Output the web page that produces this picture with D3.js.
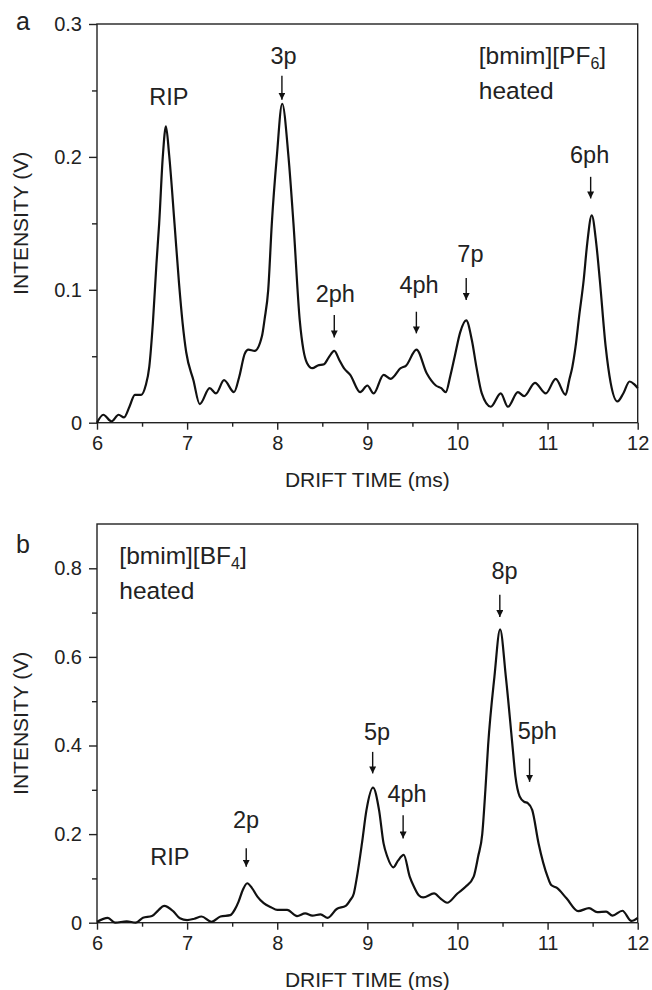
<!DOCTYPE html>
<html>
<head>
<meta charset="utf-8">
<script src="https://cdn.jsdelivr.net/npm/d3@7"></script>
<style>
  body { margin: 0; background: #fff; }
  svg text { font-family: Arial, "Liberation Sans", Helvetica, sans-serif; fill: #222; }
</style>
</head>
<body>
<div id="chart"></div>
<script>
// panel a : [bmim][PF6] heated
const pf6Time = [6.00,6.07,6.16,6.24,6.30,6.36,6.42,6.49,6.54,6.58,6.62,6.66,6.69,6.73,6.765,6.80,6.86,6.91,6.95,6.99,
  7.07,7.14,7.25,7.32,7.41,7.52,7.58,7.64,7.68,7.75,7.83,7.86,7.90,7.94,7.995,8.055,8.125,8.18,8.25,8.29,8.33,8.39,8.45,
  8.52,8.57,8.633,8.69,8.74,8.81,8.92,9.00,9.07,9.18,9.26,9.37,9.43,9.545,9.66,9.76,9.82,9.87,9.92,9.97,10.03,10.097,
  10.16,10.21,10.27,10.37,10.48,10.56,10.67,10.74,10.86,10.98,11.09,11.20,11.24,11.275,11.31,11.35,11.40,11.44,11.49,
  11.54,11.58,11.645,11.70,11.775,11.84,11.91,11.96,12.00];
const pf6Intensity = [0.000,0.006,0.001,0.006,0.004,0.012,0.021,0.021,0.028,0.042,0.075,0.120,0.150,0.200,0.223,0.202,0.150,0.105,0.075,0.053,
  0.032,0.014,0.026,0.022,0.032,0.023,0.035,0.052,0.055,0.054,0.065,0.078,0.100,0.150,0.200,0.240,0.200,0.150,0.077,0.055,0.045,0.041,0.043,
  0.044,0.049,0.054,0.047,0.041,0.036,0.023,0.028,0.022,0.036,0.033,0.041,0.043,0.055,0.037,0.028,0.026,0.023,0.035,0.050,0.068,0.077,
  0.062,0.042,0.022,0.012,0.022,0.012,0.023,0.020,0.030,0.022,0.033,0.021,0.032,0.042,0.057,0.080,0.107,0.135,0.156,
  0.135,0.107,0.057,0.030,0.016,0.022,0.031,0.029,0.026];

// panel b : [bmim][BF4] heated
const bf4Time = [6.00,6.12,6.20,6.33,6.43,6.51,6.61,6.68,6.745,6.85,6.92,7.00,7.08,7.16,7.27,7.37,7.48,7.53,7.57,7.62,7.667,
  7.72,7.78,7.85,7.93,8.00,8.11,8.22,8.31,8.39,8.48,8.56,8.66,8.76,8.81,8.85,8.885,8.94,8.99,9.063,9.13,9.18,9.22,9.29,
  9.34,9.404,9.47,9.52,9.57,9.62,9.74,9.81,9.885,10.00,10.09,10.18,10.23,10.275,10.31,10.34,10.41,10.473,10.537,10.608,
  10.644,10.69,10.74,10.78,10.83,10.90,11.00,11.04,11.10,11.21,11.34,11.46,11.55,11.65,11.72,11.83,11.93,12.00];
const bf4Intensity = [0.002,0.011,0.000,0.003,0.000,0.011,0.015,0.028,0.038,0.025,0.010,0.006,0.009,0.014,0.002,0.014,0.017,0.030,0.047,0.075,0.089,
  0.078,0.059,0.044,0.035,0.029,0.029,0.015,0.021,0.016,0.019,0.011,0.031,0.038,0.051,0.066,0.104,0.179,0.254,0.305,0.254,0.179,0.150,0.125,
  0.140,0.153,0.104,0.080,0.062,0.057,0.066,0.055,0.045,0.066,0.081,0.104,0.150,0.200,0.300,0.400,0.555,0.662,0.555,0.405,
  0.329,0.285,0.273,0.270,0.254,0.179,0.104,0.085,0.079,0.055,0.026,0.033,0.024,0.025,0.016,0.027,0.004,0.011];

const xTicks = [6, 7, 8, 9, 10, 11, 12];
const yTicksA = [0, 0.1, 0.2, 0.3];
const yTicksB = [0, 0.2, 0.4, 0.6, 0.8];

// peak labels: text position (t, v), arrow x and its top / bottom (null = no arrow)
const peaksA = [
  {label: "RIP", t: 6.797, v: 0.2389, at: null},
  {label: "3p",  t: 8.07,  v: 0.2702, at: 8.052, v1: 0.261, v2: 0.243},
  {label: "2ph", t: 8.644, v: 0.091,  at: 8.633, v1: 0.081, v2: 0.0642},
  {label: "4ph", t: 9.574, v: 0.0977, at: 9.544, v1: 0.0835, v2: 0.0672},
  {label: "7p",  t: 10.144, v: 0.121, at: 10.097, v1: 0.1088, v2: 0.0923},
  {label: "6ph", t: 11.467, v: 0.1953, at: 11.478, v1: 0.185, v2: 0.1687}
];
const peaksB = [
  {label: "RIP", t: 6.808, v: 0.130, at: null},
  {label: "2p",  t: 7.653, v: 0.2129, at: 7.656, v1: 0.1678, v2: 0.1263},
  {label: "5p",  t: 9.108, v: 0.412, at: 9.059, v1: 0.3856, v2: 0.3369},
  {label: "4ph", t: 9.441, v: 0.2728, at: 9.397, v1: 0.2428, v2: 0.1903},
  {label: "8p",  t: 10.522, v: 0.7765, at: 10.47, v1: 0.7405, v2: 0.69},
  {label: "5ph", t: 10.886, v: 0.4158, at: 10.80, v1: 0.3707, v2: 0.3179}
];

const W = 652, H = 990;
const svg = d3.select("#chart").append("svg").attr("width", W).attr("height", H);

svg.append("defs").append("marker")
  .attr("id", "arrowhead")
  .attr("viewBox", "0 0 10 10")
  .attr("refX", 10).attr("refY", 5)
  .attr("markerWidth", 7).attr("markerHeight", 7)
  .attr("markerUnits", "userSpaceOnUse")
  .attr("orient", "auto")
  .append("path").attr("d", "M0,0 L10,5 L0,10 z").attr("fill", "#111");

function drawPanel(opt){
  const x = d3.scaleLinear().domain([6, 12]).range([97, 637.7]);
  const y = d3.scaleLinear().domain(opt.yDomain).range([opt.bottom, opt.top]);
  const g = svg.append("g");

  // frame
  g.append("rect")
    .attr("x", x(6)).attr("y", opt.top)
    .attr("width", x(12) - x(6)).attr("height", opt.bottom - opt.top)
    .attr("fill", "none").attr("stroke", "#222").attr("stroke-width", 1.4);

  // x axis
  const xAx = g.append("g").attr("transform", `translate(0,${opt.bottom})`)
    .call(d3.axisBottom(x).tickValues(xTicks).tickSize(7).tickPadding(6).tickFormat(d3.format("d")));
  xAx.select(".domain").remove();
  xAx.selectAll("line").attr("stroke", "#222").attr("stroke-width", 1.4);
  xAx.selectAll("text").style("font-size", "20px").attr("fill", "#222");
  g.append("g").attr("transform", `translate(0,${opt.bottom})`)
    .call(d3.axisBottom(x).tickValues(d3.range(6.5, 12, 1)).tickSize(4).tickFormat(""))
    .call(s => s.select(".domain").remove())
    .selectAll("line").attr("stroke", "#222").attr("stroke-width", 1.4);

  // y axis
  const yAx = g.append("g").attr("transform", `translate(${x(6)},0)`)
    .call(d3.axisLeft(y).tickValues(opt.yTicks).tickSize(8).tickPadding(7).tickFormat(d => d === 0 ? "0" : d3.format(".1f")(d)));
  yAx.select(".domain").remove();
  yAx.selectAll("line").attr("stroke", "#222").attr("stroke-width", 1.4);
  yAx.selectAll("text").style("font-size", "20px").attr("fill", "#222");
  g.append("g").attr("transform", `translate(${x(6)},0)`)
    .call(d3.axisLeft(y).tickValues(opt.yMinor).tickSize(5).tickFormat(""))
    .call(s => s.select(".domain").remove())
    .selectAll("line").attr("stroke", "#222").attr("stroke-width", 1.4);

  // axis titles
  g.append("text")
    .attr("x", (x(6) + x(12)) / 2).attr("y", opt.bottom + 64)
    .attr("text-anchor", "middle").style("font-size", "21px")
    .text("DRIFT TIME (ms)");
  g.append("text")
    .attr("transform", `translate(28,${(opt.top + opt.bottom) / 2}) rotate(-90)`)
    .attr("text-anchor", "middle").style("font-size", "21px")
    .text("INTENSITY (V)");

  // panel letter
  g.append("text").attr("x", 16).attr("y", opt.letterY)
    .style("font-size", "25px").text(opt.letter);

  // spectrum
  const pts = opt.time.map((t, i) => [t, opt.intensity[i]]);
  g.append("path")
    .datum(pts)
    .attr("fill", "none").attr("stroke", "#111").attr("stroke-width", 2.2)
    .attr("stroke-linejoin", "round")
    .attr("d", d3.line().x(d => x(d[0])).y(d => y(d[1])).curve(d3.curveMonotoneX));

  // peak labels
  g.selectAll(".peakLabel").data(opt.peaks).enter().append("text")
    .attr("class", "peakLabel")
    .attr("x", d => x(d.t)).attr("y", d => y(d.v))
    .attr("text-anchor", "middle").style("font-size", "23.5px")
    .text(d => d.label);
  g.selectAll(".peakArrow").data(opt.peaks.filter(d => d.at !== null)).enter().append("line")
    .attr("class", "peakArrow")
    .attr("x1", d => x(d.at)).attr("x2", d => x(d.at))
    .attr("y1", d => y(d.v1)).attr("y2", d => y(d.v2))
    .attr("stroke", "#111").attr("stroke-width", 1.4)
    .attr("marker-end", "url(#arrowhead)");

  // sample name
  const lg = g.append("text").attr("x", x(opt.legendT)).attr("y", y(opt.legendV1)).style("font-size", "24.5px");
  lg.append("tspan").text(opt.name);
  lg.append("tspan").attr("dy", 5).style("font-size", "16px").text(opt.sub);
  lg.append("tspan").attr("dy", -5).text("]");
  g.append("text").attr("x", x(opt.legendT)).attr("y", y(opt.legendV2))
    .style("font-size", "24.5px").text("heated");
}

drawPanel({
  letter: "a", letterY: 30, top: 24, bottom: 422.7, yDomain: [0, 0.3],
  yTicks: yTicksA, yMinor: [0.05, 0.15, 0.25],
  time: pf6Time, intensity: pf6Intensity, peaks: peaksA,
  name: "[bmim][PF", sub: "6", legendT: 10.237, legendV1: 0.2702, legendV2: 0.2432
});

drawPanel({
  letter: "b", letterY: 553, top: 524, bottom: 922.7, yDomain: [0, 0.9],
  yTicks: yTicksB, yMinor: [0.1, 0.3, 0.5, 0.7],
  time: bf4Time, intensity: bf4Intensity, peaks: peaksB,
  name: "[bmim][BF", sub: "4", legendT: 6.248, legendV1: 0.8104, legendV2: 0.7314
});
</script>
</body>
</html>
